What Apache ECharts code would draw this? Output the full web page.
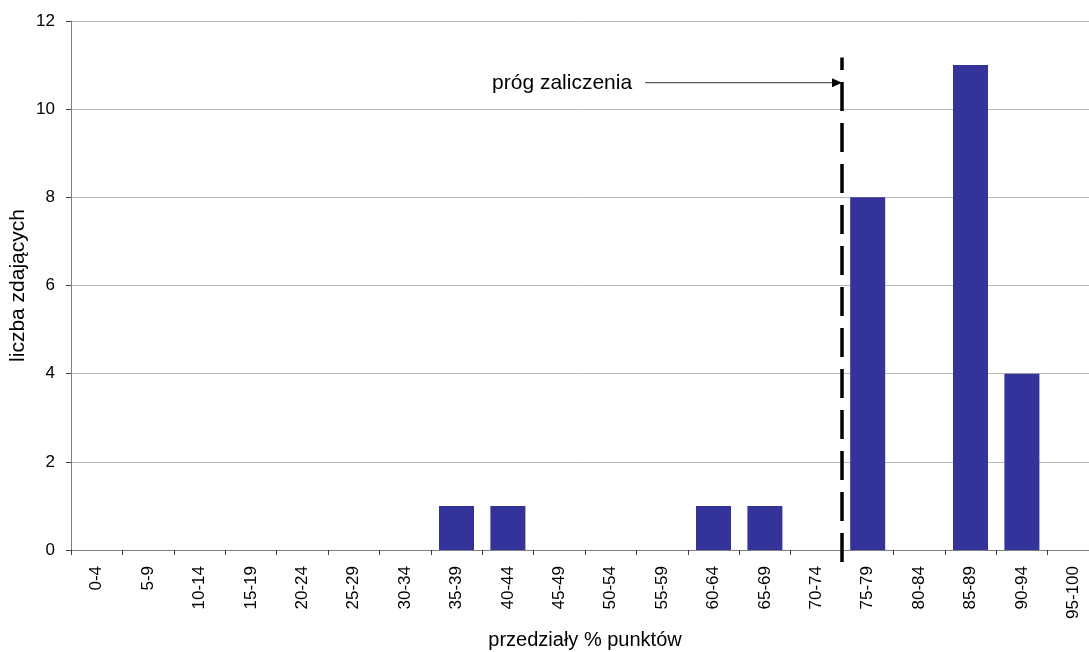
<!DOCTYPE html>
<html><head><meta charset="utf-8">
<script src="https://cdn.jsdelivr.net/npm/echarts@6/dist/echarts.min.js"></script>
<style>html,body{margin:0;padding:0;background:#fff}#c{width:1089px;height:652px}</style>
</head><body><div id="c"></div>
<script>
const categories = ['0-4','5-9','10-14','15-19','20-24','25-29','30-34','35-39','40-44','45-49','50-54','55-59','60-64','65-69','70-74','75-79','80-84','85-89','90-94','95-100'];
const counts = [0,0,0,0,0,0,0,1,1,0,0,0,1,1,0,8,0,11,4,0];
const yTicks = [0,2,4,6,8,10,12];
const thresholdIndex = 15;       // boundary between 70-74 and 75-79
const arrowY = 10.6;             // arrow height (data units)
const arrowStartX = 11.17;       // arrow start (category units)
const annotation = 'próg zaliczenia';

const font = 'Liberation Sans, Arial, sans-serif';
const chart = echarts.init(document.getElementById('c'));
chart.setOption({
  animation: false,
  grid: {left: 71, top: 21, width: 1028, height: 529, outerBoundsMode: 'none', containLabel: false},
  xAxis: [{
    type: 'category', data: categories,
    axisLine: {lineStyle: {color: '#808080', width: 1}},
    axisTick: {show: true, alignWithLabel: false, length: 5, lineStyle: {color: '#404040'}},
    axisLabel: {rotate: 90, fontFamily: font, fontSize: 17, color: '#000', margin: 16, interval: 0},
    name: 'przedziały % punktów', nameLocation: 'middle', nameGap: 80, nameMoveOverlap: false,
    nameTextStyle: {fontFamily: font, fontSize: 20, color: '#000'}
  }, {
    type: 'value', min: 0, max: 20, show: false
  }],
  yAxis: {
    type: 'value', min: yTicks[0], max: yTicks[yTicks.length-1], interval: 2,
    axisLine: {show: true, lineStyle: {color: '#808080'}},
    axisTick: {show: true, length: 5, lineStyle: {color: '#404040'}},
    axisLabel: {fontFamily: font, fontSize: 17, color: '#000', margin: 16},
    splitLine: {lineStyle: {color: '#b8b8b8', width: 1}},
    name: 'liczba zdających', nameLocation: 'middle', nameGap: 42, nameMoveOverlap: false,
    nameTextStyle: {fontFamily: font, fontSize: 21, color: '#000'}
  },
  series: [{
    type: 'bar', data: counts, barWidth: 35,
    itemStyle: {color: '#333399'}
  }]
});

function drawAnnotations() {
  const bottom = chart.convertToPixel({xAxisIndex: 1, yAxisIndex: 0}, [thresholdIndex, 0]);
  const top = chart.convertToPixel({xAxisIndex: 1, yAxisIndex: 0}, [thresholdIndex, 11.17]);
  const aStart = chart.convertToPixel({xAxisIndex: 1, yAxisIndex: 0}, [arrowStartX, arrowY]);
  const aEnd = chart.convertToPixel({xAxisIndex: 1, yAxisIndex: 0}, [thresholdIndex, arrowY]);
  chart.setOption({
    graphic: [
      {type: 'line', shape: {x1: bottom[0], y1: bottom[1] + 12, x2: top[0], y2: top[1]},
       style: {stroke: '#000', lineWidth: 3.5, lineDash: [29, 12]}, z: 10},
      {type: 'line', shape: {x1: aStart[0], y1: aStart[1], x2: aEnd[0] - 9, y2: aEnd[1]},
       style: {stroke: '#333', lineWidth: 1}, z: 10},
      {type: 'polygon', shape: {points: [[aEnd[0], aEnd[1]], [aEnd[0] - 10, aEnd[1] - 4.5], [aEnd[0] - 10, aEnd[1] + 4.5]]},
       style: {fill: '#000'}, z: 11},
      {type: 'text', x: aStart[0] - 13, y: aStart[1],
       style: {text: annotation, font: '21px ' + font, fill: '#000', align: 'right', verticalAlign: 'middle'}, z: 10}
    ]
  });
}
drawAnnotations();
</script></body></html>
